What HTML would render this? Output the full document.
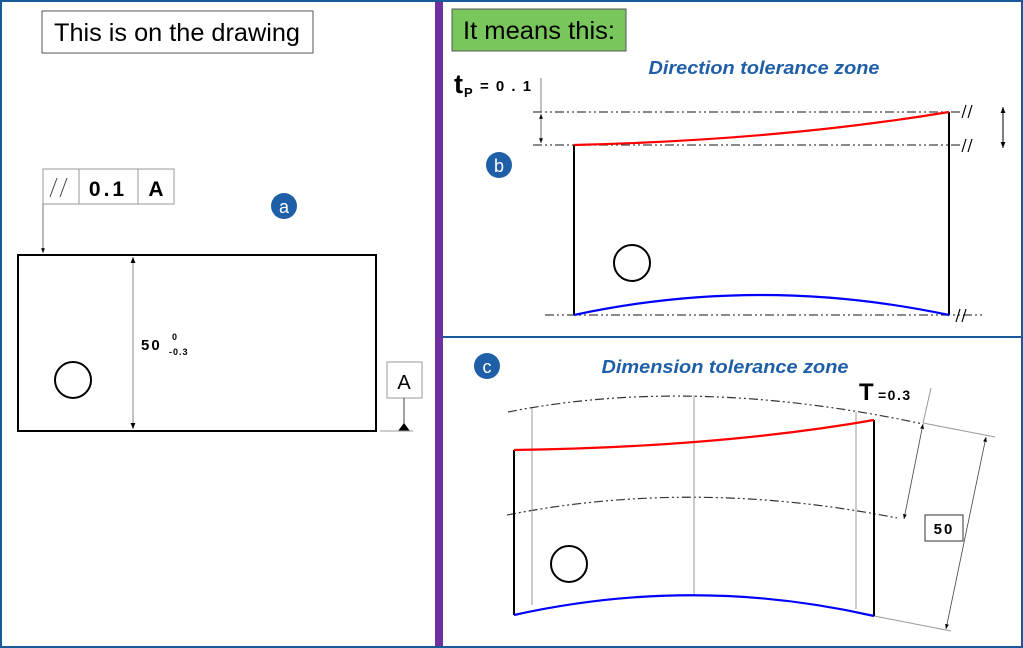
<!DOCTYPE html>
<html><head><meta charset="utf-8"><style>
html,body{margin:0;padding:0;background:#fff}
svg{display:block}
text{font-family:"Liberation Sans",sans-serif}
</style></head><body>
<svg width="1023" height="648" viewBox="0 0 1023 648" xmlns="http://www.w3.org/2000/svg">
<defs>
<marker id="ar" viewBox="0 0 10 10" refX="10" refY="5" markerWidth="6" markerHeight="6" orient="auto-start-reverse"><path d="M0,1 L10,5 L0,9z" fill="#000"/></marker>
</defs>
<rect x="1" y="1" width="1021" height="646" fill="#fff" stroke="#1a5a9a" stroke-width="2"/>
<rect x="435" y="2" width="8" height="644" fill="#7030a0"/>
<rect x="443" y="336" width="579" height="2" fill="#1a5a9a"/>

<!-- Panel a -->
<rect x="42" y="11" width="271" height="42" fill="#fff" stroke="#555" stroke-width="1"/>
<text x="177" y="41" font-size="25" text-anchor="middle" textLength="246" lengthAdjust="spacingAndGlyphs">This is on the drawing</text>
<rect x="43" y="169" width="131" height="35" fill="#fff" stroke="#999"/>
<line x1="79" y1="169" x2="79" y2="204" stroke="#999"/>
<line x1="138" y1="169" x2="138" y2="204" stroke="#999"/>
<line x1="50" y1="197" x2="57" y2="178" stroke="#444"/>
<line x1="60" y1="197" x2="67" y2="178" stroke="#444"/>
<text x="108" y="196" font-size="21" font-weight="bold" text-anchor="middle" letter-spacing="3">0.1</text>
<text x="156" y="196" font-size="21" font-weight="bold" text-anchor="middle">A</text>
<line x1="43" y1="204" x2="43" y2="253" stroke="#555" stroke-width="0.8" marker-end="url(#ar)"/>
<circle cx="284" cy="206" r="13" fill="#1f5fa8"/>
<text x="284" y="213" font-size="18" fill="#fff" text-anchor="middle">a</text>
<rect x="18" y="255" width="358" height="176" fill="none" stroke="#000" stroke-width="2"/>
<line x1="133" y1="257" x2="133" y2="429" stroke="#888" stroke-width="1" marker-start="url(#ar)" marker-end="url(#ar)"/>
<text x="141" y="350" font-size="15" font-weight="bold" letter-spacing="2">50</text>
<text x="172" y="340" font-size="9" font-weight="bold">0</text>
<text x="169" y="355" font-size="9" font-weight="bold" letter-spacing="1">-0.3</text>
<circle cx="73" cy="380" r="18" fill="none" stroke="#000" stroke-width="2"/>
<rect x="387" y="362" width="35" height="36" fill="#fff" stroke="#999"/>
<text x="404" y="389" font-size="20" text-anchor="middle">A</text>
<line x1="404" y1="398" x2="404" y2="426" stroke="#444"/>
<path d="M398,431 L404,423 L410,431z" fill="#000"/>
<line x1="380" y1="431" x2="413" y2="431" stroke="#999"/>

<!-- Panel b -->
<rect x="452" y="9" width="174" height="42" fill="#79c65d" stroke="#555"/>
<text x="539" y="39" font-size="25" text-anchor="middle" textLength="152" lengthAdjust="spacingAndGlyphs">It means this:</text>
<text x="764" y="74" font-size="18" font-weight="bold" font-style="italic" fill="#1f5fa8" text-anchor="middle" textLength="231" lengthAdjust="spacingAndGlyphs">Direction tolerance zone</text>
<text x="454" y="93" font-size="27" font-weight="bold">t</text>
<text x="464" y="97" font-size="13" font-weight="bold">P</text>
<text x="480" y="91" font-size="15" font-weight="bold" letter-spacing="1.5">= 0 . 1</text>
<line x1="541" y1="78" x2="541" y2="112" stroke="#666" stroke-width="0.8"/>
<line x1="541" y1="114" x2="541" y2="143" stroke="#444" stroke-width="0.8" marker-start="url(#ar)" marker-end="url(#ar)"/>
<line x1="533" y1="112" x2="960" y2="112" stroke="#444" stroke-width="1.3" stroke-dasharray="9,3,2,3,2,3"/>
<line x1="533" y1="145" x2="960" y2="145" stroke="#444" stroke-width="1.3" stroke-dasharray="9,3,2,3,2,3"/>
<line x1="545" y1="315" x2="982" y2="315" stroke="#444" stroke-width="1.3" stroke-dasharray="9,3,2,3,2,3"/>
<g stroke="#000" stroke-width="1.2">
<line x1="962" y1="118" x2="966" y2="105"/><line x1="968" y1="118" x2="972" y2="105"/>
<line x1="962" y1="152" x2="966" y2="139"/><line x1="968" y1="152" x2="972" y2="139"/>
<line x1="956" y1="322" x2="960" y2="309"/><line x1="962" y1="322" x2="966" y2="309"/>
</g>
<line x1="1003" y1="107" x2="1003" y2="148" stroke="#000" stroke-width="1" marker-start="url(#ar)" marker-end="url(#ar)"/>
<line x1="574" y1="145" x2="574" y2="315" stroke="#000" stroke-width="2"/>
<line x1="949" y1="112" x2="949" y2="315" stroke="#000" stroke-width="2"/>
<path d="M574,145 Q780,140 949,112" fill="none" stroke="#f00" stroke-width="2.2"/>
<path d="M574,315 Q760,275 949,315" fill="none" stroke="#00f" stroke-width="2.2"/>
<circle cx="499" cy="165" r="13" fill="#1f5fa8"/>
<text x="499" y="172" font-size="18" fill="#fff" text-anchor="middle">b</text>
<circle cx="632" cy="263" r="18" fill="none" stroke="#000" stroke-width="2"/>

<!-- Panel c -->
<circle cx="487" cy="366" r="13" fill="#1f5fa8"/>
<text x="487" y="373" font-size="18" fill="#fff" text-anchor="middle">c</text>
<text x="725" y="373" font-size="18" font-weight="bold" font-style="italic" fill="#1f5fa8" text-anchor="middle" textLength="247" lengthAdjust="spacingAndGlyphs">Dimension tolerance zone</text>
<text x="859" y="400" font-size="24" font-weight="bold">T</text>
<text x="878" y="400" font-size="14" font-weight="bold" letter-spacing="1.5">=0.3</text>
<path d="M508,412 Q694,375 923,424" fill="none" stroke="#333" stroke-width="1.2" stroke-dasharray="9,3,2,3,2,3"/>
<path d="M507,515 Q694,478 897,518" fill="none" stroke="#333" stroke-width="1.2" stroke-dasharray="9,3,2,3,2,3"/>
<g stroke="#999" stroke-width="1">
<line x1="532" y1="408" x2="532" y2="605"/>
<line x1="694" y1="395" x2="694" y2="595"/>
<line x1="856" y1="412" x2="856" y2="609"/>
<line x1="923" y1="423" x2="995" y2="437"/>
<line x1="874" y1="616" x2="951" y2="631"/>
<line x1="931" y1="388" x2="923" y2="423"/>
</g>
<line x1="923" y1="424" x2="904" y2="519" stroke="#444" stroke-width="0.8" marker-start="url(#ar)" marker-end="url(#ar)"/>
<line x1="986" y1="437" x2="946" y2="629" stroke="#444" stroke-width="0.8" marker-start="url(#ar)" marker-end="url(#ar)"/>
<rect x="925" y="515" width="38" height="26" fill="#fff" stroke="#333"/>
<text x="944" y="534" font-size="15" font-weight="bold" text-anchor="middle" letter-spacing="2">50</text>
<line x1="514" y1="450" x2="514" y2="615" stroke="#000" stroke-width="2"/>
<line x1="874" y1="420" x2="874" y2="616" stroke="#000" stroke-width="2"/>
<path d="M514,450 Q720,447 874,420" fill="none" stroke="#f00" stroke-width="2.2"/>
<path d="M514,615 Q694,575 874,616" fill="none" stroke="#00f" stroke-width="2.2"/>
<circle cx="569" cy="564" r="18" fill="none" stroke="#000" stroke-width="2"/>
</svg>
</body></html>
